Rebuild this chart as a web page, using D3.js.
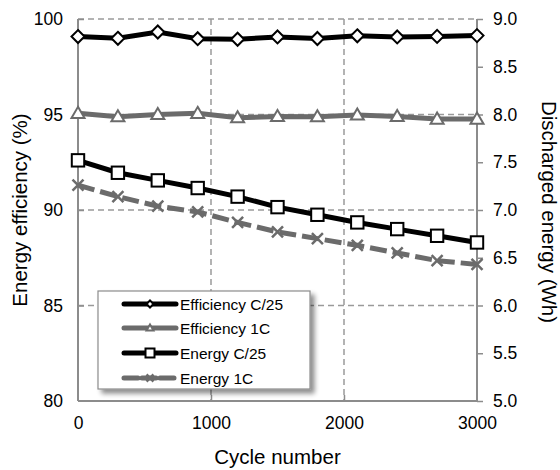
<!DOCTYPE html>
<html>
<head>
<meta charset="utf-8">
<script src="https://d3js.org/d3.v7.min.js"></script>
<style>
	body { margin: 0; background: #fff; }
	text { font-family: "Liberation Sans", Arial, sans-serif; fill: #000; }
</style>
</head>
<body>
<div id="chart"></div>
<script>
var cycles = [0, 300, 600, 900, 1200, 1500, 1800, 2100, 2400, 2700, 3000]
var effC25 = [99.08, 98.99, 99.32, 98.97, 98.94, 99.06, 98.98, 99.12, 99.06, 99.09, 99.13]
var eff1C = [95.06, 94.88, 95.0, 95.06, 94.83, 94.9, 94.88, 94.97, 94.9, 94.76, 94.76]
var energyC25 = [7.52, 7.39, 7.31, 7.23, 7.14, 7.03, 6.95, 6.87, 6.8, 6.73, 6.66]
var energy1C = [7.26, 7.14, 7.04, 6.98, 6.87, 6.77, 6.7, 6.63, 6.55, 6.47, 6.43]

var xTicks = [0, 1000, 2000, 3000]
var leftTicks = [80, 85, 90, 95, 100]
var rightTicks = [5.0, 5.5, 6.0, 6.5, 7.0, 7.5, 8.0, 8.5, 9.0]
var seriesNames = ["Efficiency C/25", "Efficiency 1C", "Energy C/25", "Energy 1C"]

var width = 560, height = 470
var plotLeft = 78, plotRight = 477, plotTop = 19, plotBottom = 401

var svg = d3.select("#chart").append("svg")
	.attr("width", width)
	.attr("height", height)

var defs = svg.append("defs")
var filt = defs.append("filter").attr("id", "shadow")
	.attr("x", "-10%").attr("y", "-10%").attr("width", "130%").attr("height", "130%")
filt.append("feGaussianBlur").attr("in", "SourceAlpha").attr("stdDeviation", 2.5)
filt.append("feOffset").attr("dx", 4).attr("dy", 4).attr("result", "blur")
filt.append("feComponentTransfer").append("feFuncA").attr("type", "linear").attr("slope", 0.45)
var merge = filt.append("feMerge")
merge.append("feMergeNode")
merge.append("feMergeNode").attr("in", "SourceGraphic")

var x = d3.scaleLinear().domain([0, 3000]).range([plotLeft, plotRight])
var yL = d3.scaleLinear().domain([80, 100]).range([plotBottom, plotTop])
var yR = d3.scaleLinear().domain([5, 9]).range([plotBottom, plotTop])

var gridColor = "#9a9a9a"
var axisColor = "#8c8c8c"

// gridlines
svg.append("g").selectAll("line")
	.data(leftTicks.filter(function(d){ return d > 80 }))
	.enter().append("line")
	.attr("x1", plotLeft).attr("x2", plotRight)
	.attr("y1", function(d){ return yL(d) }).attr("y2", function(d){ return yL(d) })
	.style("stroke", gridColor).style("stroke-width", 1.5).style("stroke-dasharray", "6,4")

svg.append("g").selectAll("line")
	.data([1000, 2000])
	.enter().append("line")
	.attr("x1", function(d){ return x(d) }).attr("x2", function(d){ return x(d) })
	.attr("y1", plotTop).attr("y2", plotBottom)
	.style("stroke", gridColor).style("stroke-width", 1.5).style("stroke-dasharray", "6,4")

// axes
var xAxis = svg.append("g").attr("transform", "translate(0," + plotBottom + ")")
	.call(d3.axisBottom(x).tickValues(xTicks).tickSize(-6).tickPadding(16).tickFormat(d3.format("d")))
var lAxis = svg.append("g").attr("transform", "translate(" + plotLeft + ",0)")
	.call(d3.axisLeft(yL).tickValues(leftTicks).tickSize(-6).tickPadding(15))
var rAxis = svg.append("g").attr("transform", "translate(" + plotRight + ",0)")
	.call(d3.axisRight(yR).tickValues(rightTicks).tickSize(6).tickPadding(10).tickFormat(d3.format(".1f")))

;[xAxis, lAxis, rAxis].forEach(function(a){
	a.select(".domain").style("stroke", axisColor).style("stroke-width", 2)
	a.selectAll(".tick line").style("stroke", axisColor).style("stroke-width", 1.5)
	a.selectAll(".tick text").style("font-size", "17.5px").style("fill", "#000")
		.style("font-family", "'Liberation Sans', Arial, sans-serif")
})
xAxis.select(".domain").attr("d", "M" + plotLeft + ",0H" + plotRight)
lAxis.select(".domain").attr("d", "M0," + plotTop + "V" + plotBottom)
rAxis.select(".domain").attr("d", "M0," + plotTop + "V" + plotBottom)
lAxis.selectAll(".tick").filter(function(d){ return d == 80 }).select("line").remove()
xAxis.selectAll(".tick").filter(function(d){ return d == 0 || d == 3000 }).select("line").remove()

// axis titles
svg.append("text").attr("x", (plotLeft + plotRight) / 2).attr("y", 464)
	.attr("text-anchor", "middle").style("font-size", "20.5px").text("Cycle number")
svg.append("text").attr("transform", "translate(27," + (plotTop + plotBottom) / 2 + ") rotate(-90)")
	.attr("text-anchor", "middle").style("font-size", "20.5px").text("Energy efficiency (%)")
svg.append("text").attr("transform", "translate(542," + (plotTop + plotBottom + 4) / 2 + ") rotate(90)")
	.attr("text-anchor", "middle").style("font-size", "20.5px").text("Discharged energy (Wh)")

// series
var black = "#000", gray = "#6b6b6b"
var series = [
	{ name: seriesNames[0], values: effC25, y: yL, color: black, dash: null, marker: "diamond" },
	{ name: seriesNames[1], values: eff1C, y: yL, color: gray, dash: null, marker: "triangle" },
	{ name: seriesNames[2], values: energyC25, y: yR, color: black, dash: null, marker: "square" },
	{ name: seriesNames[3], values: energy1C, y: yR, color: gray, dash: "17,6", marker: "cross" }
]

function drawMarker(g, type, color, s){
	if(type == "diamond"){
		g.append("path").attr("d", "M0," + (-s) + "L" + s + ",0L0," + s + "L" + (-s) + ",0Z")
			.style("fill", "#fff").style("stroke", color).style("stroke-width", 2)
	} else if(type == "triangle"){
		g.append("path").attr("d", "M0," + (-s) + "L" + s + "," + (s * 0.7) + "L" + (-s) + "," + (s * 0.7) + "Z")
			.style("fill", "#fff").style("stroke", color).style("stroke-width", 2)
	} else if(type == "square"){
		g.append("rect").attr("x", -s).attr("y", -s).attr("width", 2 * s).attr("height", 2 * s)
			.style("fill", "#fff").style("stroke", color).style("stroke-width", 2)
	} else if(type == "cross"){
		g.append("path").attr("d", "M" + (-s) + "," + (-s) + "L" + s + "," + s + "M" + s + "," + (-s) + "L" + (-s) + "," + s)
			.style("fill", "none").style("stroke", color).style("stroke-width", 2.5)
	}
}

var markerSize = { diamond: 6.5, triangle: 6.5, square: 6.2, cross: 5.5 }

series.forEach(function(s){
	var line = d3.line()
		.x(function(d, i){ return x(cycles[i]) })
		.y(function(d){ return s.y(d) })
	svg.append("path").datum(s.values)
		.attr("d", line)
		.style("fill", "none")
		.style("stroke", s.color)
		.style("stroke-width", 5)
		.style("stroke-dasharray", s.dash)
	s.values.forEach(function(v, i){
		var g = svg.append("g").attr("transform", "translate(" + x(cycles[i]) + "," + s.y(v) + ")")
		drawMarker(g, s.marker, s.color, markerSize[s.marker])
	})
})

// legend
var legend = svg.append("g")
legend.append("rect").attr("x", 98).attr("y", 291).attr("width", 212).attr("height", 98)
	.style("fill", "#fff").style("stroke", "#8c8c8c").style("stroke-width", 1.2)
	.attr("filter", "url(#shadow)")
var legY = [304, 328, 353, 378]
series.forEach(function(s, i){
	legend.append("line").attr("x1", 124).attr("x2", 176).attr("y1", legY[i]).attr("y2", legY[i])
		.style("stroke", s.color).style("stroke-width", 5).style("stroke-linecap", "round")
		.style("stroke-dasharray", s.dash ? "14,4" : null)
	var g = legend.append("g").attr("transform", "translate(150," + legY[i] + ")")
	drawMarker(g, s.marker, s.color, s.marker == "square" ? 4.5 : 3.5)
	legend.append("text").attr("x", 180).attr("y", legY[i] + 5.5)
		.style("font-size", "15.5px").text(s.name)
})
</script>
</body>
</html>
